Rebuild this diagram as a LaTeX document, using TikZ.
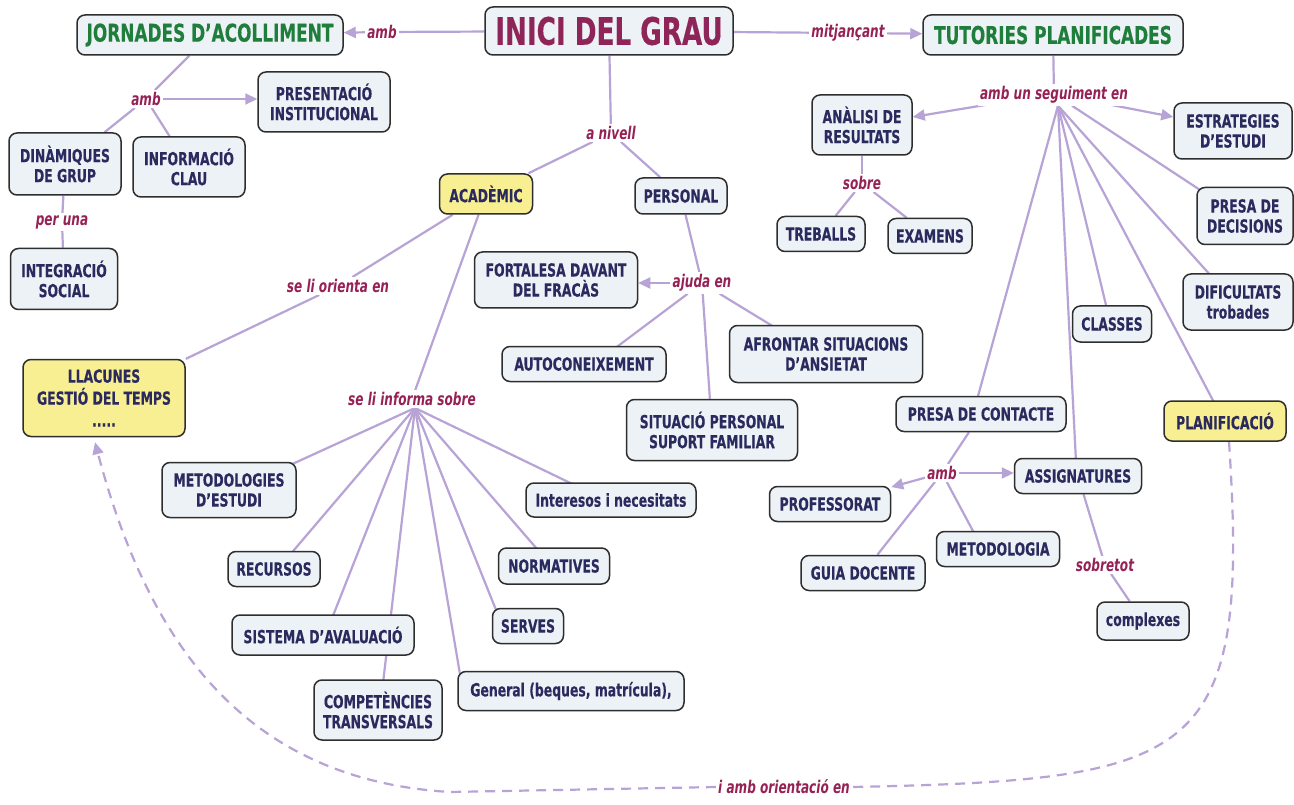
\documentclass[tikz,border=0pt]{standalone}
\usepackage{fontspec}
\setmainfont{DejaVu Sans}[FakeStretch=0.69, BoldFeatures={FakeBold=0.35}]
\usetikzlibrary{arrows.meta,calc}
\pgfdeclarelayer{bg}
\pgfsetlayers{bg,main}
\definecolor{lnk}{HTML}{B7A3D6}
\definecolor{bfill}{HTML}{EDF2F6}
\definecolor{yfill}{HTML}{F7EF91}
\definecolor{bord}{HTML}{2E2E2E}
\definecolor{navy}{HTML}{2B2A5F}
\definecolor{mag}{HTML}{8E2457}
\definecolor{grn}{HTML}{1F7E3B}
\definecolor{lbl}{HTML}{962255}
\tikzset{
  cbox/.style={draw=bord, line width=1.5pt, rounded corners=8pt, fill=bfill, text=navy,
    font=\bfseries\fontsize{18}{20}\selectfont, align=center, inner sep=0pt},
  ybox/.style={cbox, fill=yfill},
  sz/.style 2 args={minimum width=#1pt, minimum height=#2pt},
  lab/.style={text=lbl, font=\bfseries\itshape\fontsize{17.5}{20}\selectfont, inner sep=2pt, fill=white},
  lk/.style={draw=lnk, line width=2.2pt},
  ar/.style={lk, -{Triangle[length=12pt,width=11pt]}},
  dsh/.style={lk, dash pattern=on 10pt off 7pt},
  ttl/.style={font=\bfseries\fontsize{38}{40}\selectfont, text=mag},
  gtl/.style={font=\bfseries\fontsize{24.5}{28}\selectfont, text=grn}
}
\begin{document}
\begin{tikzpicture}[x=1pt,y=-1pt]
\useasboundingbox (0,0) rectangle (1294,805);
% main nodes
\node[cbox,sz={248}{48},ttl] (inici) at (609,31) {INICI DEL GRAU};
\node[cbox,sz={266}{40},gtl] (jorn) at (210,35) {JORNADES D'ACOLLIMENT};
\node[cbox,sz={260}{40},gtl] (tut) at (1053,35) {TUTORIES PLANIFICADES};
\node[cbox,sz={132}{60}] (pres) at (324,102) {PRESENTACIÓ\\INSTITUCIONAL};
\node[cbox,sz={112}{62}] (din) at (65,164) {DINÀMIQUES\\DE GRUP};
\node[cbox,sz={112}{60}] (info) at (189,167) {INFORMACIÓ\\CLAU};
\node[cbox,sz={107}{61}] (integ) at (64,279) {INTEGRACIÓ\\SOCIAL};
\node[ybox,sz={162}{77},font=\bfseries\fontsize{18}{22}\selectfont] (llac) at (104,398) {LLACUNES\\GESTIÓ DEL TEMPS\\.....};
\node[ybox,sz={93}{40}] (acad) at (486,194) {ACADÈMIC};
\node[cbox,sz={92}{36}] (pers) at (681,196) {PERSONAL};
\node[cbox,sz={163}{56}] (fort) at (556,280) {FORTALESA DAVANT\\DEL FRACÀS};
\node[cbox,sz={164}{35}] (auto) at (584,364) {AUTOCONEIXEMENT};
\node[cbox,sz={193}{57}] (afront) at (826,354) {AFRONTAR SITUACIONS\\D'ANSIETAT};
\node[cbox,sz={171}{61}] (sit) at (712,430) {SITUACIÓ PERSONAL\\SUPORT FAMILIAR};
\node[cbox,sz={134}{55}] (metest) at (229,490) {METODOLOGIES\\D'ESTUDI};
\node[cbox,sz={92}{35}] (recur) at (274,569) {RECURSOS};
\node[cbox,sz={182}{40}] (sist) at (323,635) {SISTEMA D'AVALUACIÓ};
\node[cbox,sz={128}{60}] (comp) at (378,710) {COMPETÈNCIES\\TRANSVERSALS};
\node[cbox,sz={226}{39}] (gen) at (571,691) {General (beques, matrícula),};
\node[cbox,sz={71}{35}] (serv) at (528,626) {SERVES};
\node[cbox,sz={111}{36}] (norm) at (554,566) {NORMATIVES};
\node[cbox,sz={170}{34}] (inter) at (611,500) {Interesos i necesitats};
\node[cbox,sz={100}{60}] (anal) at (862,125) {ANÀLISI DE\\RESULTATS};
\node[cbox,sz={118}{56}] (estr) at (1233,131) {ESTRATEGIES\\D'ESTUDI};
\node[cbox,sz={88}{35}] (treb) at (821,234) {TREBALLS};
\node[cbox,sz={84}{35}] (exam) at (930,236) {EXAMENS};
\node[cbox,sz={96}{57}] (presdec) at (1245,216) {PRESA DE\\DECISIONS};
\node[cbox,sz={110}{56}] (dific) at (1238,302) {DIFICULTATS\\trobades};
\node[cbox,sz={79}{36}] (classes) at (1112,324) {CLASSES};
\node[ybox,sz={122}{40}] (planif) at (1225,421) {PLANIFICACIÓ};
\node[cbox,sz={170}{35}] (prescont) at (981,414) {PRESA DE CONTACTE};
\node[cbox,sz={127}{35}] (assig) at (1078,476) {ASSIGNATURES};
\node[cbox,sz={121}{35}] (prof) at (830,504) {PROFESSORAT};
\node[cbox,sz={124}{35}] (guia) at (863,573) {GUIA DOCENTE};
\node[cbox,sz={123}{35}] (metod) at (998,549) {METODOLOGIA};
\node[cbox,sz={92}{38}] (compl) at (1143,621) {complexes};
% linking phrases
\node[lab] (lamb1) at (382,32) {amb};
\node[lab] (lmitj) at (848,33) {mitjançant};
\node[lab] (lamb2) at (146,99) {amb};
\node[lab] (lperuna) at (62,222) {per una};
\node[lab] (lnivell) at (611,133) {a nivell};
\node[lab] (lorienta) at (338,286) {se li orienta en};
\node[lab] (linforma) at (412,399) {se li informa sobre};
\node[lab] (lajuda) at (702,283) {ajuda en};
\node[lab] (lseg) at (1054,95) {amb un seguiment en};
\node[lab] (lsobre) at (862,183) {sobre};
\node[lab] (lamb3) at (942,473) {amb};
\node[lab] (lsobretot) at (1105,565) {sobretot};
\node[lab] (lorient) at (784,787) {i amb orientació en};
\coordinate (fi) at ($(linforma.south)+(3,0)$);
\coordinate (fs) at ($(lseg.south)+(4,0)$);
\begin{pgfonlayer}{bg}
\fill[white] (0,0) rectangle (1294,805);
% top
\draw[lk] (inici) -- (lamb1);
\draw[ar] (lamb1) -- (jorn);
\draw[lk] (inici) -- (lmitj);
\draw[ar] (lmitj) -- (tut);
\draw[lk] (inici) -- (lnivell);
\draw[lk] (lnivell) -- (acad);
\draw[lk] (lnivell) -- (pers);
% jornades
\draw[lk] (jorn) -- (lamb2);
\draw[ar] (lamb2.east) -- (lamb2.east -| pres.west);
\draw[lk] (lamb2) -- (din);
\draw[lk] (lamb2) -- (info);
\draw[lk] (din) -- (lperuna);
\draw[lk] (lperuna) -- (integ);
% academic
\draw[lk] (acad) -- (lorienta);
\draw[lk] (lorienta) -- (llac);
\draw[lk] (acad) -- (linforma);
\draw[lk] (fi) -- ($(metest.north east)+(-6,3)$);
\draw[lk] (fi) -- ($(recur.north)+(16,4)$);
\draw[lk] (fi) -- ($(sist.north)+(9,4)$);
\draw[lk] (fi) -- ($(comp.north)+(5,4)$);
\draw[lk] (fi) -- ($(gen.north west)+(3,5)$);
\draw[lk] (fi) -- ($(serv.north west)+(5,4)$);
\draw[lk] (fi) -- ($(norm.north)+(-15,4)$);
\draw[lk] (fi) -- ($(inter.north)+(-34,4)$);
% personal
\draw[lk] (pers) -- (lajuda);
\draw[ar] (lajuda.west) -- (lajuda.west -| fort.east);
\draw[lk] (lajuda) -- ($(auto.north)+(29,4)$);
\draw[lk] (lajuda) -- ($(afront.north)+(-49,4)$);
\draw[lk] (lajuda) -- (sit);
% tutories
\draw[lk] (tut) -- (lseg);
\draw[ar] ($(lseg.south west)+(15,-2)$) -- ($(anal.east)+(0,-8)$);
\draw[ar] ($(lseg.south east)+(-25,-2)$) -- ($(estr.west)+(0,-14)$);
\draw[lk] ($(lseg.south)+(18,0)$) -- ($(presdec.north west)+(5,4)$);
\draw[lk] (fs) -- ($(dific.north west)+(30,4)$);
\draw[lk] (fs) -- ($(classes.north)+(-5,4)$);
\draw[lk] (fs) -- ($(planif.north)+(-10,4)$);
\draw[lk] (fs) -- ($(prescont.north)+(-4,4)$);
\draw[lk] (fs) -- ($(assig.north)+(-2,4)$);
\draw[lk] (anal) -- (lsobre);
\draw[lk] (lsobre) -- (treb);
\draw[lk] (lsobre) -- (exam);
\draw[lk] (prescont) -- (lamb3);
\draw[ar] (lamb3) -- (prof);
\draw[ar] (lamb3.east) -- (lamb3.east -| assig.west);
\draw[lk] (lamb3) -- (guia);
\draw[lk] (lamb3) -- ($(metod.north)+(-23,4)$);
\draw[lk] (assig) -- (lsobretot);
\draw[lk] (lsobretot) -- (compl);
% dashed return link
\draw[dsh] ($(planif.south)+(4,0)$) .. controls (1250,760) and (1200,780) .. (lorient.east);
\draw[dsh, -{Triangle[length=12pt,width=11pt]}] (lorient.west) -- (450,792) .. controls (250,780) and (150,650) .. ($(llac.south)+(-9,5)$);
\end{pgfonlayer}
\end{tikzpicture}
\end{document}
